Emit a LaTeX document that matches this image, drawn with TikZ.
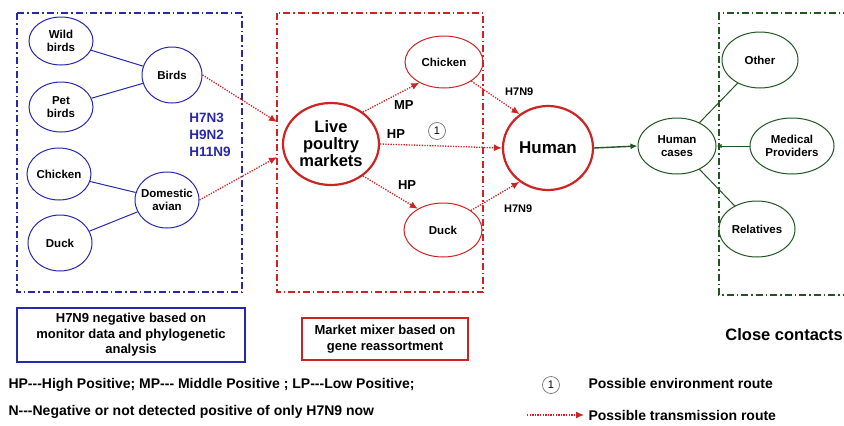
\documentclass[tikz,border=0pt]{standalone}
\usepackage{fontspec}
\setmainfont{Liberation Sans}
\usetikzlibrary{arrows.meta,shapes.geometric}
\definecolor{bblue}{RGB}{40,40,170}
\definecolor{rred}{RGB}{205,35,35}
\definecolor{ggreen}{RGB}{35,85,35}
\tikzset{
  frame/.style={line width=1.4pt, dash pattern=on 7pt off 3pt on 1.5pt off 3pt},
  ntext/.style={align=center, inner sep=0pt, text=black, font=\bfseries\fontsize{11.5}{13}\selectfont},
  ell/.style={ellipse, inner sep=0pt, line width=1pt},
  bnode/.style={ell, draw=bblue},
  rnode/.style={ell, draw=rred},
  gnode/.style={ell, draw=ggreen},
  bigtext/.style={align=center, inner sep=0pt, font=\bfseries\fontsize{16.5}{17}\selectfont},
  bigr/.style={ell, draw=rred, line width=2.2pt},
  tarrow/.style={rred, line width=1.3pt, dash pattern=on 1.3pt off 1.3pt, -{Latex[length=8pt,width=7pt,fill=rred]}},
  lbl/.style={text=black, font=\bfseries\fontsize{13}{14}\selectfont},
  slbl/.style={text=black, font=\bfseries\fontsize{11}{12}\selectfont},
  num/.style={draw=black!55, circle, line width=0.7pt, inner sep=1pt, minimum size=17pt, font=\fontsize{11}{12}\selectfont},
  legtext/.style={anchor=west, font=\bfseries\fontsize{14}{15}\selectfont},
  boxtext/.style={align=center, font=\bfseries\fontsize{13}{15.5}\selectfont},
}
\begin{document}
\begin{tikzpicture}[x=1pt,y=-1pt]
\useasboundingbox[fill=white] (0,0) rectangle (844,426);
% frames
\draw[frame, bblue] (17,13) rectangle (242,292);
\draw[frame, rred] (277,13) rectangle (483,292);
\draw[frame, ggreen] (850,13) -- (719,13) -- (719,295) -- (850,295);
% blue nodes
\node[bnode, minimum width=64pt, minimum height=48pt, label={[ntext]center:Wild\\birds}] (wild) at (61,41) {};
\node[bnode, minimum width=64pt, minimum height=50pt, label={[ntext]center:Pet\\birds}] (pet) at (61,107) {};
\node[bnode, minimum width=64pt, minimum height=52pt, label={[ntext]center:Chicken}] (chk) at (59,174) {};
\node[bnode, minimum width=64pt, minimum height=56pt, label={[ntext]center:Duck}] (duck) at (60,243) {};
\node[bnode, minimum width=60pt, minimum height=56pt, label={[ntext]center:Birds}] (birds) at (172,75) {};
\node[bnode, minimum width=64pt, minimum height=56pt, label={[ntext]center:Domestic\\avian}] (dom) at (167,200) {};
\draw[bblue, line width=1pt] (wild) -- (birds);
\draw[bblue, line width=1pt] (pet) -- (birds);
\draw[bblue, line width=1pt] (chk) -- (dom);
\draw[bblue, line width=1pt] (duck) -- (dom);
\node[text=bblue, align=left, font=\bfseries\fontsize{13.5}{17}\selectfont] (subs) at (210,135) {H7N3\\H9N2\\H11N9};
% red nodes
\node[bigr, minimum width=96pt, minimum height=82pt, label={[bigtext]center:Live\\poultry\\markets}] (lpm) at (331,144) {};
\node[rnode, minimum width=78pt, minimum height=52pt, label={[ntext]center:Chicken}] (rchk) at (444,62) {};
\node[rnode, minimum width=78pt, minimum height=54pt, label={[ntext]center:Duck}] (rduck) at (443,230) {};
\node[bigr, minimum width=90pt, minimum height=84pt, label={[bigtext, font=\bfseries\fontsize{17}{18}\selectfont]center:Human}] (human) at (548,148) {};
\coordinate (in1) at (277,122);
\coordinate (in2) at (277,157);
\draw[tarrow] (birds.east) -- (in1);
\draw[tarrow] (dom.east) -- (in2);
\draw[tarrow] (lpm.45) -- (rchk.220) node[lbl, pos=0.5, below right=-1pt] {MP};
\draw[tarrow] (lpm.east) -- (human.west) node[lbl, pos=0.13, above=2pt] {HP};
\node[num] (one) at (437,131) {1};
\draw[tarrow] (lpm.-45) -- (rduck.140) node[lbl, pos=0.55, above right=1pt] {HP};
\draw[tarrow] (rchk.-35) -- (human.130) node[slbl, pos=0.6, above right=1pt] {H7N9};
\draw[tarrow] (rduck.35) -- (human.-130) node[slbl, pos=0.5, below right=5pt] {H7N9};
% green nodes
\node[gnode, minimum width=78pt, minimum height=56pt, label={[ntext]center:Human\\cases}] (hc) at (677,146) {};
\node[gnode, minimum width=76pt, minimum height=56pt, label={[ntext]center:Other}] (other) at (760,60) {};
\node[gnode, minimum width=84pt, minimum height=56pt, label={[ntext]center:Medical\\Providers}] (med) at (792,146) {};
\node[gnode, minimum width=76pt, minimum height=56pt, label={[ntext]center:Relatives}] (rel) at (757,229) {};
\draw[ggreen, line width=1.4pt, -{Latex[length=7pt,width=6pt]}] (human.east) -- (hc.west);
\draw[ggreen, line width=1pt] (hc) -- (other);
\draw[ggreen, line width=1pt, -{Latex[length=5pt,width=4pt]}] (med) -- (hc);
\draw[ggreen, line width=1pt] (hc) -- (rel);
\node[font=\bfseries\fontsize{16.5}{17}\selectfont, anchor=east, inner sep=1pt] (cc) at (844,335) {Close contacts};
% bottom boxes
\node[draw=bblue, line width=1.2pt, minimum width=228pt, minimum height=54pt, boxtext] (bbox) at (131,335) {H7N9 negative based on\\monitor data and phylogenetic\\analysis};
\node[draw=rred, line width=1.2pt, minimum width=166pt, minimum height=42pt, boxtext] (rbox) at (385,339) {Market mixer based on\\gene reassortment};
% legend
\node[legtext] (leg1) at (5,385) {HP-{}-{}-High Positive; MP-{}-{}- Middle Positive ; LP-{}-{}-Low Positive;};
\node[legtext] (leg2) at (5,412) {N-{}-{}-Negative or not detected positive of only H7N9 now};
\node[num] (lone) at (551,385) {1};
\node[legtext] (leg3) at (585,383) {Possible environment route};
\coordinate (la) at (527,415);
\coordinate (lb) at (584,415);
\draw[tarrow] (la) -- (lb);
\node[legtext] (leg4) at (585,415) {Possible transmission route};
\end{tikzpicture}
\end{document}
